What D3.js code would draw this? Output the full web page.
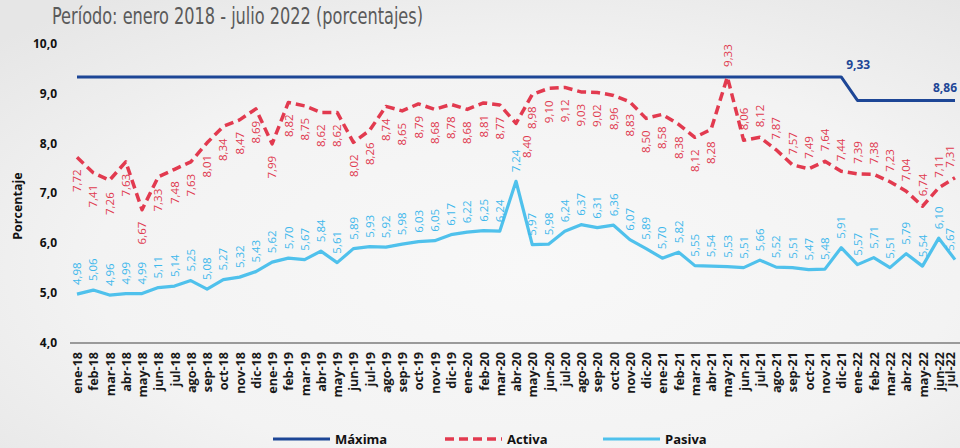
<!DOCTYPE html>
<html>
<head>
<meta charset="utf-8">
<script src="https://cdn.jsdelivr.net/npm/d3@7"></script>
<style>
  html, body { margin: 0; padding: 0; }
  body { width: 960px; height: 448px; overflow: hidden; }
  svg { display: block; }
</style>
</head>
<body>
<svg id="chart" width="960" height="448"></svg>
<script>
const meses = [
  "ene-18","feb-18","mar-18","abr-18","may-18","jun-18","jul-18","ago-18","sep-18","oct-18","nov-18","dic-18",
  "ene-19","feb-19","mar-19","abr-19","may-19","jun-19","jul-19","ago-19","sep-19","oct-19","nov-19","dic-19",
  "ene-20","feb-20","mar-20","abr-20","may-20","jun-20","jul-20","ago-20","sep-20","oct-20","nov-20","dic-20",
  "ene-21","feb-21","mar-21","abr-21","may-21","jun-21","jul-21","ago-21","sep-21","oct-21","nov-21","dic-21",
  "ene-22","feb-22","mar-22","abr-22","may-22","jun-22","jul-22"
];
const maxima = [
  9.33,9.33,9.33,9.33,9.33,9.33,9.33,9.33,9.33,9.33,9.33,9.33,
  9.33,9.33,9.33,9.33,9.33,9.33,9.33,9.33,9.33,9.33,9.33,9.33,
  9.33,9.33,9.33,9.33,9.33,9.33,9.33,9.33,9.33,9.33,9.33,9.33,
  9.33,9.33,9.33,9.33,9.33,9.33,9.33,9.33,9.33,9.33,9.33,9.33,
  8.86,8.86,8.86,8.86,8.86,8.86,8.86
];
const activa = [
  7.72,7.41,7.26,7.63,6.67,7.33,7.48,7.63,8.01,8.34,8.47,8.69,
  7.99,8.82,8.75,8.62,8.62,8.02,8.26,8.74,8.65,8.79,8.68,8.78,
  8.68,8.81,8.77,8.40,8.98,9.10,9.12,9.03,9.02,8.96,8.83,8.50,
  8.58,8.38,8.12,8.28,9.33,8.06,8.12,7.87,7.57,7.49,7.64,7.44,
  7.39,7.38,7.23,7.04,6.74,7.11,7.31
];
const pasiva = [
  4.98,5.06,4.96,4.99,4.99,5.11,5.14,5.25,5.08,5.27,5.32,5.43,
  5.62,5.70,5.67,5.84,5.61,5.89,5.93,5.92,5.98,6.03,6.05,6.17,
  6.22,6.25,6.24,7.24,5.97,5.98,6.24,6.37,6.31,6.36,6.07,5.89,
  5.70,5.82,5.55,5.54,5.53,5.51,5.66,5.52,5.51,5.47,5.48,5.91,
  5.57,5.71,5.51,5.79,5.54,6.10,5.67
];
const yTicks = [4,5,6,7,8,9,10];
const titulo = "Período: enero 2018 - julio 2022 (porcentajes)";
const ejeY = "Porcentaje";
const series = [
  { name: "Máxima", values: maxima, color: "#1d4696", dash: null, width: 3 },
  { name: "Activa", values: activa, color: "#e23a4f", dash: "9,5", width: 3.5 },
  { name: "Pasiva", values: pasiva, color: "#4fc1ec", dash: null, width: 3.2 }
];

const svg = d3.select("#chart");
const W = 960, H = 448;

const defs = svg.append("defs");
const rg = defs.append("radialGradient").attr("id","bg")
  .attr("cx","55%").attr("cy","60%").attr("r","75%");
rg.append("stop").attr("offset","0%").attr("stop-color","#f8f8f8");
rg.append("stop").attr("offset","60%").attr("stop-color","#f3f3f3");
rg.append("stop").attr("offset","100%").attr("stop-color","#e6e6e6");
svg.append("rect").attr("width",W).attr("height",H).attr("fill","url(#bg)");

const fmt = v => d3.format(".2f")(v).replace(".", ",");
const fmt1 = v => d3.format(".1f")(v).replace(".", ",");

const x = d3.scalePoint().domain(meses).range([77, 955]);
const y = d3.scaleLinear().domain([4, 10]).range([343, 43.5]);
const lx = i => Math.min(x(meses[i]), 950);

// title
svg.append("text")
  .attr("x", 52).attr("y", 24)
  .attr("font-family", "'Liberation Sans Narrow','DejaVu Sans Condensed','Roboto',sans-serif")
  .attr("font-size", 23)
  .attr("fill", "#5a5a5a")
  .attr("textLength", 371).attr("lengthAdjust", "spacingAndGlyphs")
  .text(titulo);

// y tick labels
svg.append("g").selectAll("text").data(yTicks).join("text")
  .attr("x", 57).attr("y", d => y(d)).attr("dy", "0.35em")
  .attr("text-anchor", "end")
  .attr("font-family", "'Open Sans',sans-serif").attr("font-weight", 700)
  .attr("font-size", 12).attr("fill", "#111")
  .text(d => fmt1(d));

// y axis title
svg.append("text")
  .attr("transform", `translate(18,${206}) rotate(-90)`)
  .attr("text-anchor", "middle").attr("dy", "0.35em")
  .attr("font-family", "'Open Sans',sans-serif").attr("font-weight", 700)
  .attr("font-size", 12.5).attr("fill", "#111")
  .text(ejeY);

// x axis
const xAxis = d3.axisBottom(x).tickSize(0).tickPadding(0);
const gx = svg.append("g").attr("transform", `translate(0,${y(4)})`).call(xAxis);
gx.select(".domain").attr("d", `M70,0H960`).attr("stroke", "#9a9a9a").attr("stroke-width", 2);
gx.selectAll(".tick text")
  .attr("transform", d => `translate(${Math.min(0, 950 - x(d))},9) rotate(-90)`)
  .attr("x", 0).attr("y", 0).attr("dy", "0.36em")
  .attr("text-anchor", "end")
  .attr("font-family", "'Open Sans',sans-serif").attr("font-weight", 700)
  .attr("font-size", 12.6).attr("fill", "#1a1a1a");

// lines
const line = d3.line().x((d, i) => x(meses[i])).y(d => y(d));
series.forEach(s => {
  svg.append("path")
    .datum(s.values)
    .attr("fill", "none")
    .attr("stroke", s.color)
    .attr("stroke-width", s.width)
    .attr("stroke-dasharray", s.dash)
    .attr("stroke-linejoin", "round")
    .attr("d", line);
});

// activa labels: below the line before the peak, above from the peak on;
// nudged right when a label below would collide with the pasiva label
const maxIdx = activa.indexOf(d3.max(activa));
const LBL = 24;
const clash = activa.map((d, i) => i < maxIdx && (y(d) + 12 + LBL > y(pasiva[i]) - 9 - LBL));
svg.append("g").selectAll("text").data(activa).join("text")
  .attr("transform", (d, i) => {
    const up = i >= maxIdx;
    const off = up ? -10 : 12;
    const dx = clash[i] ? 11 : 0;
    return `translate(${lx(i) + dx},${y(d) + off}) rotate(-90)`;
  })
  .attr("dy", "0.36em")
  .attr("text-anchor", (d, i) => i >= maxIdx ? "start" : "end")
  .attr("font-family", "'Open Sans',sans-serif").attr("font-size", 11.5)
  .attr("fill", "#e03a4f")
  .text(d => fmt(d));

// pasiva labels
svg.append("g").selectAll("text").data(pasiva).join("text")
  .attr("transform", (d, i) => `translate(${lx(i)},${y(d) - 9}) rotate(-90)`)
  .attr("dy", "0.36em")
  .attr("text-anchor", "start")
  .attr("font-family", "'Open Sans',sans-serif").attr("font-size", 11.5)
  .attr("fill", "#3db8ec")
  .text(d => fmt(d));

// maxima labels: last point of each level
const maxLabelIdx = maxima.map((v, i) => (i === maxima.length - 1 || maxima[i + 1] !== v) ? i : -1).filter(i => i >= 0);
svg.append("g").selectAll("text").data(maxLabelIdx).join("text")
  .attr("x", i => x(meses[i]) + (i === maxima.length - 1 ? -10 : 17))
  .attr("y", i => y(maxima[i]) - 8)
  .attr("text-anchor", "middle")
  .attr("font-family", "'Open Sans',sans-serif").attr("font-weight", 700)
  .attr("font-size", 12).attr("fill", "#1d4696")
  .text(i => fmt(maxima[i]));

// legend
const legendX = [273, 445, 603];
const lg = svg.append("g");
series.forEach((s, k) => {
  lg.append("line")
    .attr("x1", legendX[k]).attr("x2", legendX[k] + 57)
    .attr("y1", 439).attr("y2", 439)
    .attr("stroke", s.color).attr("stroke-width", s.width)
    .attr("stroke-dasharray", s.dash);
  lg.append("text")
    .attr("x", legendX[k] + 62).attr("y", 439).attr("dy", "0.36em")
    .attr("font-family", "'Open Sans',sans-serif").attr("font-weight", 700)
    .attr("font-size", 13).attr("fill", "#111")
    .text(s.name);
});
</script>
</body>
</html>
